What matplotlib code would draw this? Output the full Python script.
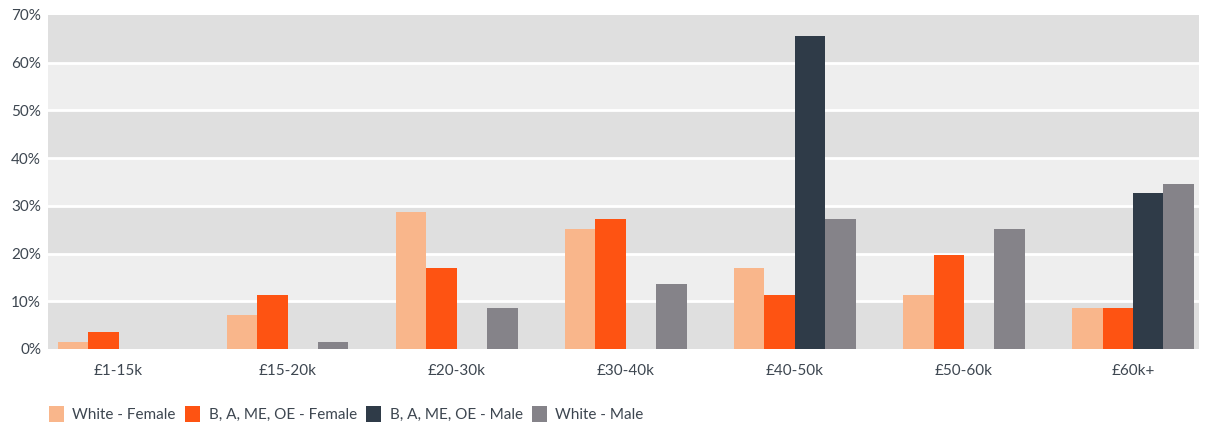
import numpy as np
import matplotlib.pyplot as plt
from matplotlib.patches import Patch

plt.rcParams['font.family'] = ['Lato', 'DejaVu Sans']

bands = ['£1-15k', '£15-20k', '£20-30k', '£30-40k', '£40-50k', '£50-60k', '£60k+']
white_female = [1.5, 7.1, 28.7, 25.2, 17.0, 11.3, 8.6]
bame_female = [3.6, 11.3, 17.0, 27.3, 11.3, 19.7, 8.6]
bame_male = [0, 0, 0, 0, 65.6, 0, 32.7]
white_male = [0, 1.5, 8.6, 13.6, 27.3, 25.2, 34.6]

series = [
    ('White - Female', white_female, '#f9b68b'),
    ('B, A, ME, OE - Female', bame_female, '#fe5312'),
    ('B, A, ME, OE - Male', bame_male, '#2f3b48'),
    ('White - Male', white_male, '#858389'),
]

txt = '#3d4650'

fig = plt.figure(figsize=(12.05, 4.28), dpi=100)
ax = fig.add_axes([48/1205, 1-349/428, 1151/1205, 334/428])

# alternating background bands
for i in range(7):
    ax.axhspan(i*10, (i+1)*10, color='#dfdfdf' if i % 2 == 0 else '#eeeeee', lw=0, zorder=0)
for v in range(10, 70, 10):
    ax.axhline(v, color='white', lw=2, zorder=1)

x = np.arange(len(bands))
w = 0.18
for k, (name, vals, col) in enumerate(series):
    ax.bar(x + (k - 1.5)*w, vals, width=w, color=col, zorder=2)

ax.set_xlim(-0.417, 6.39)
ax.set_ylim(0, 70)
ax.set_yticks(range(0, 71, 10))
ax.set_yticklabels([f'{v}%' for v in range(0, 71, 10)])
ax.set_xticks(x)
ax.set_xticklabels(bands)
ax.tick_params(length=0, labelsize=11, colors=txt)
ax.tick_params(axis='x', pad=11)
ax.tick_params(axis='y', pad=5)
for s in ax.spines.values():
    s.set_visible(False)

handles = [Patch(facecolor=c, label=n) for n, _, c in series]
fig.legend(handles=handles, loc='center left', bbox_to_anchor=(41/1205, 14/428), ncol=4,
           frameon=False, fontsize=11, handlelength=1.0, handleheight=1.3,
           handletextpad=0.55, columnspacing=0.6, borderpad=0, labelcolor=txt)

fig.savefig('out.png', dpi=100)
